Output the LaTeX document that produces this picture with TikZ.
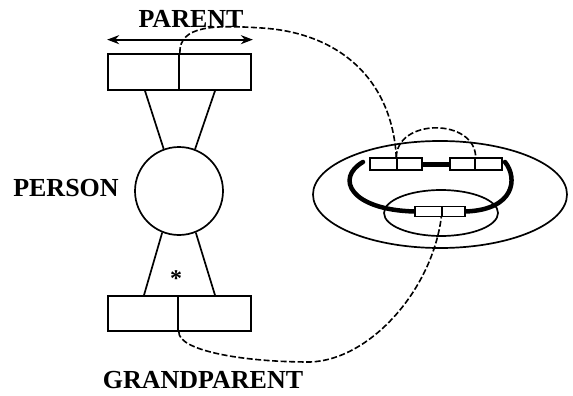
\documentclass[tikz,border=0pt]{standalone}
\usepackage{fontspec}
\setmainfont{Liberation Serif}
\usetikzlibrary{shapes.geometric,arrows.meta}
\begin{document}
\begin{tikzpicture}[x=1pt,y=-1pt,
  box/.style={draw,line width=1.7pt,rectangle,inner sep=0pt,minimum height=36pt,fill=white},
  sbox/.style={draw,line width=1.4pt,rectangle,inner sep=0pt,minimum height=12pt,fill=white},
  lbl/.style={font=\fontsize{26}{26}\selectfont\bfseries,inner sep=0pt},
  dashln/.style={line width=1.6pt,dash pattern=on 6pt off 2.5pt},
  plain/.style={line width=1.7pt},
  ell/.style={draw,ellipse,line width=1.7pt,inner sep=0pt}]
\useasboundingbox (0,0) rectangle (573,396);
% left figure
\node[box,minimum width=71pt] (tl) at (143.5,72) {};
\node[box,minimum width=72pt] (tr) at (215,72) {};
\node[box,minimum width=70pt,minimum height=35pt] (bl) at (143,313.5) {};
\node[box,minimum width=73pt,minimum height=35pt] (br) at (214.5,313.5) {};
\node[draw,circle,line width=1.7pt,minimum size=88pt,inner sep=0pt] (p) at (179,191) {};
\draw[plain] ([xshift=1.5pt]tl.south) -- (p.110);
\draw[plain] (tr.south) -- (p.69);
\draw[plain] (p.248) -- ([xshift=1pt]bl.north);
\draw[plain] (p.292) -- ([xshift=0.5pt]br.north);
\draw[line width=1.8pt,{Stealth[length=12pt,width=9pt]}-{Stealth[length=12pt,width=9pt]}]
  ([yshift=13.5pt]tl.north west) -- ([yshift=13.5pt,xshift=1pt]tr.north east);
\node[lbl] (parent) at (191,19) {PARENT};
\node[lbl] (person) at (66,188.5) {PERSON};
\node[lbl] (grand) at (203,380) {GRANDPARENT};
\node[font=\fontsize{24}{24}\selectfont\bfseries,inner sep=0pt] (star) at (176,279) {*};
% right figure
\node[ell,minimum width=254pt,minimum height=107pt] (outer) at (440,194.5) {};
\node[ell,minimum width=114pt,minimum height=46pt] (inner) at (441,213) {};
\coordinate (uL) at (363,162);
\coordinate (uR) at (505,162);
\node[sbox,minimum width=27pt] (a1) at (383.5,164) {};
\node[sbox,minimum width=25pt] (a2) at (409.5,164) {};
\node[sbox,minimum width=25pt] (b1) at (462.5,164) {};
\node[sbox,minimum width=27pt] (b2) at (488.5,164) {};
\draw[line width=4.5pt,line cap=round] (uL) .. controls (335,178) and (350,210) .. (415,211.5)
  -- (465,211.5) .. controls (515,210) and (518,178) .. (uR);
\node[sbox,minimum width=27pt,minimum height=10pt] (c1) at (428.5,211.5) {};
\node[sbox,minimum width=23pt,minimum height=10pt] (c2) at (453.5,211.5) {};
\node[sbox,minimum width=27pt] at (383.5,164) {};
\node[sbox,minimum width=25pt] at (409.5,164) {};
\node[sbox,minimum width=25pt] at (462.5,164) {};
\node[sbox,minimum width=27pt] at (488.5,164) {};
\draw[line width=5pt] (a2.east) -- (b1.west);
% dashed links
\draw[dashln] (tl.north east) .. controls (179,25) and (215,25) .. (262,28)
  .. controls (340,33) and (392,80) .. (a2.north west);
\draw[dashln] (a2.north west) .. controls (397,118) and (475,118) .. (b1.north east);
\draw[dashln] (bl.south east) .. controls (178,350) and (240,362) .. (310,362)
  .. controls (370,360) and (432,290) .. (c2.south west);
\end{tikzpicture}
\end{document}
